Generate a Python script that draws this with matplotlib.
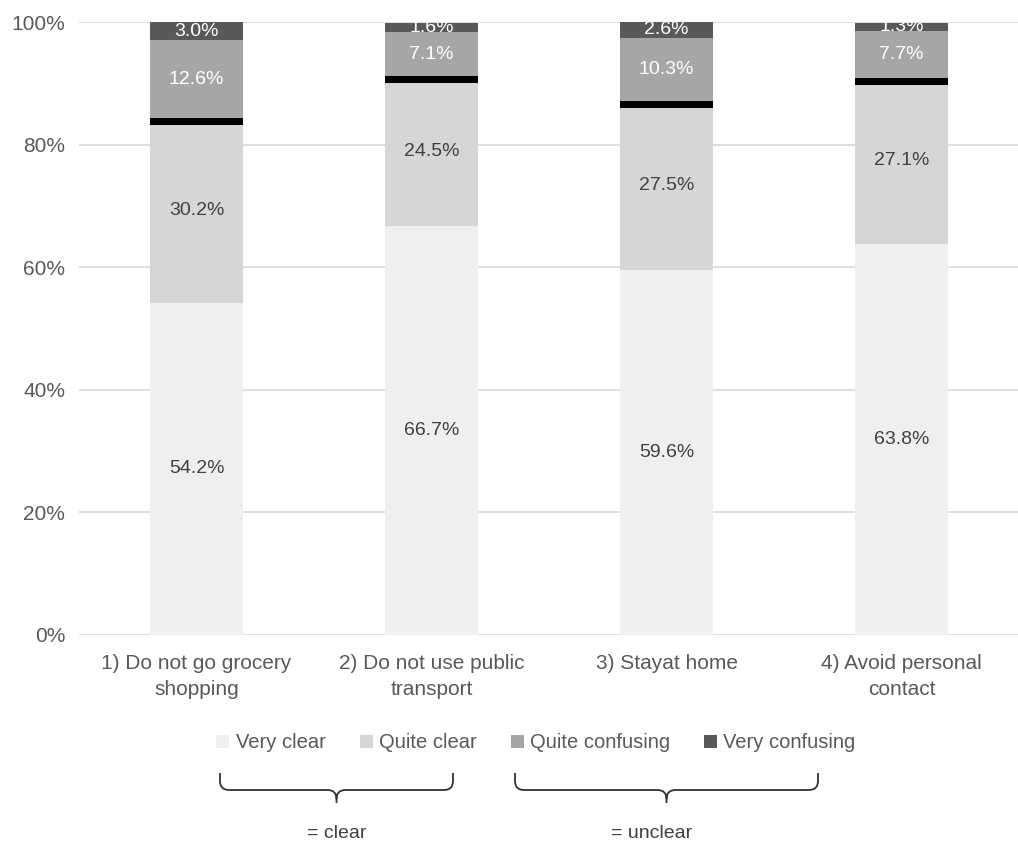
import matplotlib
matplotlib.use("Agg")
import matplotlib.pyplot as plt
import numpy as np
from matplotlib.path import Path
from matplotlib.patches import PathPatch, Patch

plt.rcParams['font.family'] = ['Liberation Sans', 'DejaVu Sans']

categories = ["1) Do not go grocery\nshopping", "2) Do not use public\ntransport",
              "3) Stayat home", "4) Avoid personal\ncontact"]
very_clear = [54.2, 66.7, 59.6, 63.8]
quite_clear = [30.2, 24.5, 27.5, 27.1]
quite_confusing = [12.6, 7.1, 10.3, 7.7]
very_confusing = [3.0, 1.6, 2.6, 1.3]
series_names = ["Very clear", "Quite clear", "Quite confusing", "Very confusing"]
colors = ["#efefef", "#d6d6d6", "#a6a6a6", "#595959"]
text_colors = ["#404040", "#404040", "white", "white"]
yticks = [0, 20, 40, 60, 80, 100]
W, H = 1018, 843

fig = plt.figure(figsize=(W / 100, H / 100), dpi=100)
ax = fig.add_axes([79 / W, 208 / H, 940 / W, 613 / H])

x = np.arange(len(categories))
bw = 0.395
bottom = np.zeros(len(categories))
series = [very_clear, quite_clear, quite_confusing, very_confusing]
for vals, name, c, tc in zip(series, series_names, colors, text_colors):
    vals = np.array(vals)
    ax.bar(x, vals, bw, bottom=bottom, color=c, label=name, zorder=2)
    for xi, b, v in zip(x, bottom, vals):
        ax.text(xi, b + v / 2, f"{v:.1f}%", ha="center", va="center",
                color=tc, fontsize=14, zorder=4, clip_on=False)
    bottom = bottom + vals

# thick black separator between "clear" and "unclear"
boundary = np.array(very_clear) + np.array(quite_clear)
sep_h = 1.2
ax.bar(x, sep_h, bw, bottom=boundary - sep_h, color="black", zorder=3)

ax.set_xlim(-0.5, 3.5)
ax.set_ylim(0, 100)
ax.set_yticks(yticks)
ax.set_yticklabels([f"{t}%" for t in yticks])
ax.set_xticks(x)
ax.set_xticklabels(categories, linespacing=1.45)
ax.tick_params(axis="both", length=0, labelsize=15, labelcolor="#595959")
ax.tick_params(axis="x", pad=14)
ax.tick_params(axis="y", pad=10)
for s in ax.spines.values():
    s.set_visible(False)
ax.yaxis.grid(True, color="#d9d9d9", linewidth=1.2, zorder=0)
ax.set_axisbelow(True)

handles = [Patch(facecolor=c, edgecolor="none") for c in colors]
fig.legend(handles, series_names, loc="center", bbox_to_anchor=(536 / W, 1 - 743 / H),
           ncol=4, frameon=False, fontsize=14.5, labelcolor="#595959",
           handlelength=0.65, handleheight=0.65, handletextpad=0.3, columnspacing=1.7)


def brace(x0, x1, yt=773, ym=790, yb=803, r=9):
    xc = (x0 + x1) / 2
    pts = [(x0, yt), (x0, ym - r), (x0, ym), (x0 + r, ym),
           (xc - r, ym), (xc, ym), (xc, ym + r), (xc, yb),
           (xc, ym + r), (xc, ym), (xc + r, ym),
           (x1 - r, ym), (x1, ym), (x1, ym - r), (x1, yt)]
    codes = [Path.MOVETO, Path.LINETO, Path.CURVE3, Path.CURVE3,
             Path.LINETO, Path.CURVE3, Path.CURVE3, Path.LINETO,
             Path.MOVETO, Path.CURVE3, Path.CURVE3,
             Path.LINETO, Path.CURVE3, Path.CURVE3, Path.LINETO]
    pts = [(px / W, 1 - py / H) for px, py in pts]
    fig.add_artist(PathPatch(Path(pts, codes), transform=fig.transFigure,
                             fill=False, edgecolor="#333333", linewidth=1.3))


brace(220, 453)
brace(515, 818)
fig.text(337 / W, 1 - 833 / H, "= clear", ha="center", va="center", fontsize=14, color="#404040")
fig.text(652 / W, 1 - 833 / H, "= unclear", ha="center", va="center", fontsize=14, color="#404040")

fig.savefig("out.png", dpi=100)
